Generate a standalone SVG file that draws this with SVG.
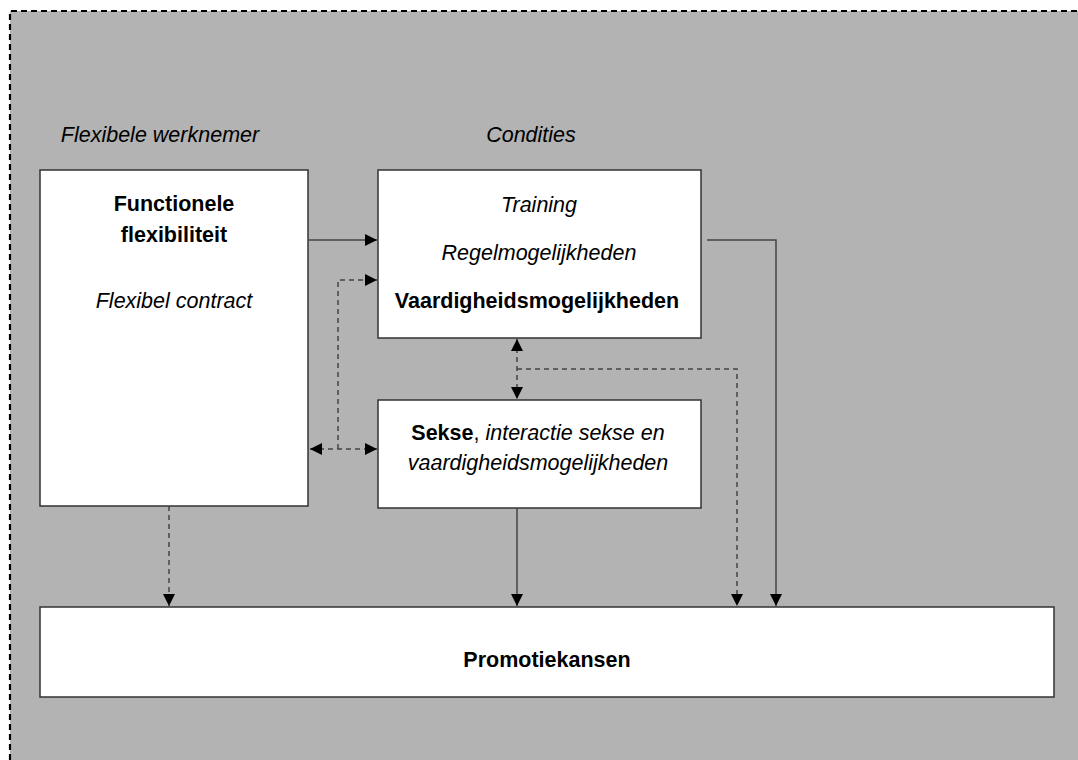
<svg xmlns="http://www.w3.org/2000/svg" width="1078" height="760" viewBox="0 0 1078 760">
  <style>
    .box { fill: #ffffff; stroke: #333333; stroke-width: 1.5; }
    .t { font-family: "Liberation Sans", Arial, sans-serif; font-size: 21.5px; fill: #000000; text-anchor: middle; }
    .b { font-weight: bold; }
    .i { font-style: italic; }
    .solid { fill: none; stroke: #444444; stroke-width: 1.5; }
    .dash { fill: none; stroke: #444444; stroke-width: 1.5; stroke-dasharray: 5 4; }
  </style>
  <defs>
    <marker id="arrow" viewBox="0 0 12 12" refX="12" refY="6" markerWidth="12" markerHeight="12" markerUnits="userSpaceOnUse" orient="auto-start-reverse">
      <path d="M0,0 L12,6 L0,12 Z" fill="#000000"/>
    </marker>
  </defs>

  <!-- background panel -->
  <rect x="0" y="0" width="1078" height="760" fill="#ffffff"/>
  <rect x="10" y="11" width="1078" height="760" fill="#b3b3b3"/>
  <path d="M10,760 L10,11 L1078,11" fill="none" stroke="#000000" stroke-width="2.2" stroke-dasharray="6 4"/>

  <!-- column headings -->
  <text class="t i" x="160" y="142">Flexibele werknemer</text>
  <text class="t i" x="531" y="142">Condities</text>

  <g id="flexibele-werknemer">
    <rect class="box" x="40" y="170" width="268" height="336"/>
    <text class="t b" x="174" y="211">Functionele</text>
    <text class="t b" x="174" y="242">flexibiliteit</text>
    <text class="t i" x="174" y="308">Flexibel contract</text>
  </g>

  <g id="condities">
    <rect class="box" x="378" y="170" width="323" height="168"/>
    <text class="t i" x="539" y="212">Training</text>
    <text class="t i" x="539" y="260">Regelmogelijkheden</text>
    <text class="t b" x="537" y="308">Vaardigheidsmogelijkheden</text>
  </g>

  <g id="sekse">
    <rect class="box" x="378" y="400" width="323" height="108"/>
    <text class="t" x="538" y="440"><tspan class="b">Sekse</tspan>, <tspan class="i">interactie sekse en</tspan></text>
    <text class="t i" x="538" y="470">vaardigheidsmogelijkheden</text>
  </g>

  <g id="promotiekansen">
    <rect class="box" x="40" y="607" width="1014" height="90"/>
    <text class="t b" x="547" y="667">Promotiekansen</text>
  </g>

  <g id="connectors">
    <!-- functional flexibility to conditions -->
    <line class="solid" x1="309" y1="240" x2="377" y2="240" marker-end="url(#arrow)"/>
    <!-- gender to flexible worker (both ways) and up to conditions -->
    <line class="dash" x1="310" y1="449" x2="377" y2="449" marker-start="url(#arrow)" marker-end="url(#arrow)"/>
    <path class="dash" d="M338,449 L338,280 L377,280" marker-end="url(#arrow)"/>
    <!-- conditions and gender -->
    <line class="dash" x1="517" y1="339" x2="517" y2="399" marker-start="url(#arrow)" marker-end="url(#arrow)"/>
    <path class="dash" d="M517,369 L737,369 L737,606" marker-end="url(#arrow)"/>
    <!-- conditions to promotion -->
    <path class="solid" d="M707,240 L776,240 L776,606" marker-end="url(#arrow)"/>
    <!-- gender to promotion -->
    <line class="solid" x1="517" y1="508" x2="517" y2="606" marker-end="url(#arrow)"/>
    <!-- flexible worker to promotion -->
    <line class="dash" x1="169" y1="506" x2="169" y2="606" marker-end="url(#arrow)"/>
  </g>
</svg>
